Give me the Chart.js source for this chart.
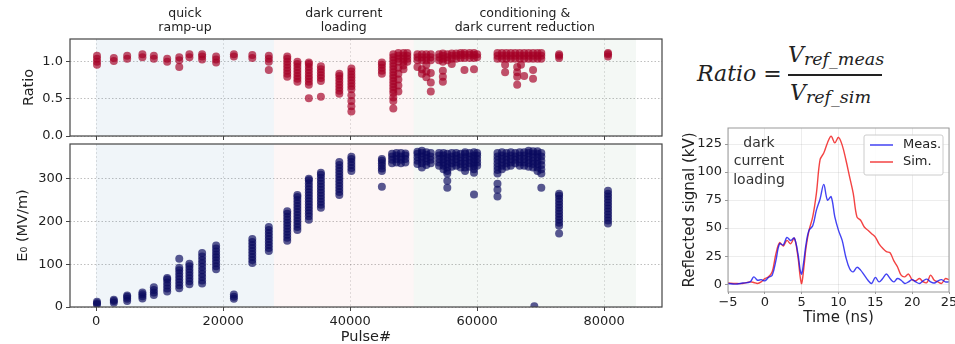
<!DOCTYPE html>
<html>
<head>
<meta charset="utf-8">
<script src="https://cdn.jsdelivr.net/npm/chart.js@4/dist/chart.umd.min.js"></script>
<style>
  body { margin: 0; background: #fff; }
  #fig { position: relative; width: 955px; height: 344px; overflow: hidden; color: #222; }
  canvas { position: absolute; }
  .eq { position: absolute; font-family: "DejaVu Serif"; font-style: italic; font-size: 22px; line-height: 22px; color: #222; white-space: nowrap; }
  .eq sub { font-size: 17.5px; vertical-align: -3px; line-height: 0; }
</style>
</head>
<body>
<div id="fig">
  <canvas id="ratioChart" width="670" height="140" style="left:0;top:0"></canvas>
  <canvas id="e0Chart" width="670" height="204" style="left:0;top:140px"></canvas>
  <canvas id="signalChart" width="285" height="224" style="left:670px;top:120px"></canvas>
  <div class="eq" style="left:697px;top:63px">Ratio =</div>
  <div class="eq" style="left:788px;top:44px">V<sub>ref_meas</sub></div>
  <div style="position:absolute;left:788px;top:74px;width:94px;height:2px;background:#222"></div>
  <div class="eq" style="left:790px;top:82px">V<sub>ref_sim</sub></div>
</div>
<script>
// --- donnees ---
const pulseTicks = [0, 20000, 40000, 60000, 80000];
const ratioTicks = [0, 0.5, 1.0];
const e0Ticks = [0, 100, 200, 300];

// phases de conditionnement (Pulse#)
const phaseNames = [['quick', 'ramp-up'], ['dark current', 'loading'], ['conditioning &', 'dark current reduction']];
const phaseStart = [0, 28000, 50000];
const phaseEnd = [28000, 50000, 85000];

// [Pulse#, valeurs du ratio]
const ratioGroups = [
  [150, [0.96, 1.0, 1.04, 1.08]],
  [2800, [1.01, 1.05]],
  [4900, [1.04, 1.08]],
  [7300, [1.06, 1.1]],
  [9100, [1.04, 1.08]],
  [11200, [1.0, 1.04]],
  [13100, [0.93, 1.02, 1.06]],
  [14700, [1.06, 1.1]],
  [16700, [1.03, 1.07, 1.1]],
  [18900, [0.99, 1.03, 1.07]],
  [21700, [1.07, 1.1]],
  [24600, [1.05, 1.09]],
  [27200, [0.89, 1.0, 1.04, 1.08]],
  [30100, [0.8, 0.84, 0.88, 0.92, 0.96, 1.0, 1.04, 1.07]],
  [31700, [0.73, 0.77, 0.81, 0.85, 0.89, 0.93, 0.97, 1.0]],
  [33500, [0.51, 0.69, 0.73, 0.77, 0.81, 0.85, 0.89, 0.93, 0.97, 0.99]],
  [35400, [0.53, 0.74, 0.78, 0.82, 0.86, 0.9, 0.94]],
  [38300, [0.57, 0.61, 0.65, 0.69, 0.73, 0.77, 0.81, 0.84]],
  [40200, [0.33, 0.4, 0.47, 0.55, 0.63, 0.67, 0.71, 0.75, 0.79, 0.83, 0.87, 0.91]],
  [45000, [0.84, 0.88, 0.92, 0.96, 0.99]],
  [46800, [0.37, 0.47, 0.52, 0.58, 0.62, 0.66, 0.7, 0.74, 0.78, 0.82, 0.86, 0.9, 0.94, 0.98, 1.02, 1.06, 1.1]],
  [47600, [0.6, 0.68, 0.76, 0.84, 0.92, 1.0, 1.04, 1.08, 1.12]],
  [48400, [0.9, 0.95, 1.0, 1.04, 1.08, 1.12]],
  [49000, [1.0, 1.04, 1.08, 1.12]],
  [50600, [0.93, 1.02, 1.06, 1.1]],
  [51300, [0.84, 0.9, 1.02, 1.06, 1.1]],
  [52000, [0.79, 0.87, 0.96, 1.02, 1.06, 1.1]],
  [52700, [0.6, 0.72, 0.85, 1.02, 1.06, 1.1]],
  [54000, [1.02, 1.06, 1.1]],
  [54600, [0.73, 0.8, 0.88, 1.0, 1.04, 1.08, 1.11]],
  [55300, [1.02, 1.06, 1.1]],
  [56000, [0.97, 1.04, 1.08, 1.11]],
  [56700, [1.04, 1.08, 1.11]],
  [57400, [1.05, 1.09, 1.12]],
  [58000, [0.89, 1.05, 1.09, 1.12]],
  [58800, [1.05, 1.09, 1.12]],
  [59500, [0.9, 1.05, 1.09, 1.12]],
  [60000, [1.06, 1.1]],
  [63200, [1.04, 1.08, 1.12]],
  [63900, [1.04, 1.08, 1.12]],
  [64400, [0.86, 0.96]],
  [64600, [1.04, 1.08, 1.12]],
  [65300, [1.04, 1.08, 1.12]],
  [66000, [1.04, 1.08, 1.12]],
  [66300, [0.69, 0.8, 0.86, 0.93]],
  [66700, [1.04, 1.08, 1.12]],
  [66900, [0.96]],
  [67400, [0.81, 1.04, 1.08, 1.12]],
  [68100, [1.04, 1.08, 1.12]],
  [68800, [0.77, 0.89, 1.04, 1.08, 1.12]],
  [69500, [1.04, 1.08, 1.12]],
  [70100, [1.04, 1.08, 1.12]],
  [72900, [1.05, 1.08, 1.1]],
  [80600, [1.07, 1.1, 1.12]]
];

// [Pulse#, valeurs de E0 (MV/m)]
const e0Groups = [
  [150, [6, 9, 12]],
  [2800, [10, 14, 17]],
  [4900, [14, 19, 24, 27]],
  [7300, [20, 25, 30, 34]],
  [9100, [28, 34, 40, 46]],
  [11200, [36, 43, 50, 57, 64, 68]],
  [13100, [44, 51, 58, 65, 72, 79, 86, 92, 113]],
  [14700, [53, 60, 67, 74, 81, 88, 95, 101]],
  [16700, [55, 62, 70, 78, 86, 94, 102, 110, 118, 126]],
  [18900, [88, 95, 102, 109, 116, 123, 130, 137, 144]],
  [21700, [19, 24, 29]],
  [24600, [103, 110, 117, 124, 131, 138, 145, 152, 159]],
  [27200, [131, 138, 145, 152, 159, 166, 173, 180, 187]],
  [30100, [155, 162, 169, 176, 183, 190, 197, 204, 211, 218, 224]],
  [31700, [180, 187, 194, 201, 208, 215, 222, 229, 236, 243, 250, 257, 262]],
  [33500, [204, 212, 219, 226, 233, 240, 247, 254, 261, 268, 275, 282, 289, 296, 300]],
  [35400, [232, 239, 246, 253, 260, 267, 274, 281, 288, 295, 302, 309, 314]],
  [38300, [262, 269, 276, 283, 290, 297, 304, 311, 318, 325, 332, 339]],
  [40200, [318, 325, 332, 339, 346, 351]],
  [45000, [281, 318, 324, 330, 336, 342, 346]],
  [46600, [336, 344, 352, 358]],
  [47300, [338, 346, 354, 360]],
  [48000, [336, 344, 352, 360]],
  [48700, [338, 346, 354, 359]],
  [50600, [334, 342, 350, 358, 363]],
  [51300, [326, 336, 344, 352, 360, 365]],
  [52000, [332, 340, 348, 356, 362]],
  [52700, [336, 344, 352, 360]],
  [54000, [330, 338, 346, 354, 360]],
  [54700, [322, 330, 338, 346, 354, 360]],
  [55300, [279, 295, 312, 318, 326, 334, 342, 350, 358]],
  [56000, [328, 336, 344, 352, 360]],
  [56700, [330, 338, 346, 354, 360]],
  [57400, [326, 334, 342, 350, 358]],
  [58100, [318, 326, 334, 342, 350, 358, 362]],
  [58800, [328, 336, 344, 352, 360]],
  [59500, [263, 314, 322, 330, 338, 346, 354, 362]],
  [60000, [330, 338, 346, 354, 360]],
  [63200, [258, 274, 288, 312, 320, 328, 336, 344, 352, 360]],
  [63900, [322, 330, 338, 346, 354, 362]],
  [64600, [328, 336, 344, 352, 360]],
  [65300, [330, 338, 346, 354, 362]],
  [66000, [336, 344, 352, 360]],
  [66700, [330, 338, 346, 354, 362]],
  [67400, [330, 338, 346, 354, 362]],
  [68100, [328, 336, 344, 352, 360, 365]],
  [68800, [326, 334, 342, 350, 358, 364]],
  [69000, [2]],
  [69500, [318, 326, 334, 342, 350, 358, 364]],
  [70100, [279, 312, 322, 332, 342, 352, 360]],
  [72900, [172, 190, 197, 204, 211, 218, 225, 232, 239, 246, 253, 260, 265]],
  [80600, [195, 202, 209, 216, 223, 230, 237, 244, 251, 258, 265, 272]]
];

// signal reflechi (kV) en fonction du temps (ns)
const signalTime = [-5, -4, -3, -2, -1.5, -1, -0.5, 0, 0.5, 1, 1.5, 2, 2.5, 3, 3.5, 4, 4.5, 4.8, 5, 5.3, 5.6, 6, 6.5, 7, 7.5, 8, 8.5, 9, 9.5, 10, 10.5, 11, 11.5, 12, 12.5, 13, 13.5, 14, 14.5, 15, 15.5, 16, 16.5, 17, 17.5, 18, 18.5, 19, 19.5, 20, 20.5, 21, 21.5, 22, 22.5, 23, 23.5, 24, 24.5, 25];
const measSignal = [0.6, 0, 1, 2, 6.5, 3.5, 4, 3, 6, 8, 21, 36, 35, 41.7, 39, 41, 27, 12.5, 9, 21, 36, 48, 52, 66, 76, 89, 75, 78, 60, 48, 39, 24, 14, 11, 15, 12.5, 8, 3.5, 0.6, 6, 2, 5, 9, 5, 2, 5, 3.5, 0.6, 2, 4, 2, 0.6, 3, 4.5, 2, 1, 3, 4, 2, 2];
const simSignal = [1, 0.6, 0.6, 2, 1.5, 0.6, 2, 5, 6.5, 11, 27, 37, 34, 39, 36, 41, 24, 6.5, 0.6, 15, 33, 48, 60, 81, 111, 117, 126, 132, 126, 131, 124, 111, 96, 81, 60, 57, 51, 48, 45, 42, 36, 32, 29, 28, 21, 15.5, 8, 6.5, 9, 4, 3, 5, 2, 1.5, 8, 3.5, 2, 0.6, 5, 4];

// --- styles ---
Chart.defaults.font.family = 'DejaVu Sans';
Chart.defaults.color = '#222';
const phaseFill = ['rgba(70,130,180,0.08)', 'rgba(220,80,80,0.05)', 'rgba(60,140,80,0.06)'];

function toPoints(groups) {
  return groups.flatMap(([pulse, values]) => values.map(v => ({ x: pulse, y: v })));
}

// fond colore par phase + cadre + titres des phases
const phasePlugin = {
  id: 'phases',
  beforeDatasetsDraw(chart, args, opts) {
    const { ctx, chartArea: a, scales: { x } } = chart;
    ctx.save();
    phaseStart.forEach((s, i) => {
      const x0 = x.getPixelForValue(s), x1 = x.getPixelForValue(phaseEnd[i]);
      ctx.fillStyle = phaseFill[i];
      ctx.fillRect(x0, a.top, x1 - x0, a.bottom - a.top);
      if (opts.labels) {
        ctx.fillStyle = '#222';
        ctx.font = '12.5px "DejaVu Sans"';
        ctx.textAlign = 'center';
        ctx.textBaseline = 'middle';
        const xc = x.getPixelForValue((s + phaseEnd[i]) / 2);
        phaseNames[i].forEach((line, k) => ctx.fillText(line, xc, 14 + k * 14));
      }
    });
    ctx.restore();
  },
  afterDatasetsDraw(chart) {
    const { ctx, chartArea: a } = chart;
    ctx.save();
    ctx.strokeStyle = '#444';
    ctx.lineWidth = 1.2;
    ctx.strokeRect(a.left, a.top, a.right - a.left, a.bottom - a.top);
    ctx.restore();
  }
};

function pulseAxis(showLabels) {
  return {
    type: 'linear', min: -4100, max: 89100,
    afterBuildTicks: s => { s.ticks = pulseTicks.map(v => ({ value: v })); },
    afterFit: s => { s.height = showLabels ? 37 : 3; s.paddingLeft = 0; s.paddingRight = 0; },
    grid: { color: 'rgba(0,0,0,0.12)', tickLength: 4, tickColor: '#444' },
    border: { display: false, dash: [2, 2] },
    ticks: { display: showLabels, font: { size: 13 }, padding: 3, maxRotation: 0, callback: v => String(v) },
    title: { display: showLabels, text: 'Pulse#', font: { size: 14.5 }, padding: { top: 0, bottom: -2 } }
  };
}

function valueAxis(min, max, tickValues, title, titlePad, fmt) {
  return {
    min: min, max: max,
    afterBuildTicks: s => { s.ticks = tickValues.map(v => ({ value: v })); },
    afterFit: s => { s.width = 70; s.paddingTop = 0; s.paddingBottom = 0; },
    grid: { color: 'rgba(0,0,0,0.25)', tickLength: 4, tickColor: '#444' },
    border: { display: false, dash: [1.5, 2] },
    ticks: { font: { size: 13 }, padding: 3, callback: fmt },
    title: { display: true, text: title, font: { size: 14.5 }, padding: { top: titlePad, bottom: 0 } }
  };
}

// graphique du haut : ratio
new Chart(document.getElementById('ratioChart'), {
  type: 'scatter',
  data: { datasets: [{ label: 'Ratio', data: toPoints(ratioGroups), backgroundColor: 'rgba(165,0,38,0.68)', borderWidth: 0, pointRadius: 4 }] },
  options: {
    responsive: false, animation: false,
    layout: { padding: { top: 39, right: 8, left: 0, bottom: 0 } },
    plugins: { legend: { display: false }, tooltip: { enabled: false }, phases: { labels: true } },
    scales: { x: pulseAxis(false), y: valueAxis(0, 1.307, ratioTicks, 'Ratio', 21, v => v.toFixed(1)) }
  },
  plugins: [phasePlugin]
});

// graphique du bas : E0
new Chart(document.getElementById('e0Chart'), {
  type: 'scatter',
  data: { datasets: [{ label: 'E0', data: toPoints(e0Groups), backgroundColor: 'rgba(10,10,95,0.68)', borderWidth: 0, pointRadius: 4 }] },
  options: {
    responsive: false, animation: false,
    layout: { padding: { top: 3, right: 8, left: 0, bottom: 0 } },
    plugins: { legend: { display: false }, tooltip: { enabled: false }, phases: { labels: false } },
    scales: { x: pulseAxis(true), y: valueAxis(0, 381, e0Ticks, 'E\u2080 (MV/m)', 15, v => String(v)) }
  },
  plugins: [phasePlugin]
});

// legende, texte et cadre du graphique du signal
const signalPlugin = {
  id: 'signalDecor',
  afterDatasetsDraw(chart) {
    const { ctx, chartArea: a } = chart;
    ctx.save();
    ctx.strokeStyle = '#999';
    ctx.lineWidth = 1;
    ctx.strokeRect(a.left, a.top, a.right - a.left, a.bottom - a.top);
    // texte
    ctx.fillStyle = '#333';
    ctx.font = '14px "DejaVu Sans"';
    ctx.textAlign = 'center';
    ctx.textBaseline = 'middle';
    ['dark', 'current', 'loading'].forEach((t, k) => ctx.fillText(t, a.left + 31, a.top + 15 + k * 18.5));
    // legende
    const bx = a.right - 85, by = a.top + 7;
    ctx.fillStyle = 'rgba(255,255,255,0.85)';
    ctx.strokeStyle = '#ccc';
    ctx.beginPath();
    ctx.roundRect(bx, by, 79, 40, 2);
    ctx.fill();
    ctx.stroke();
    ctx.textAlign = 'left';
    ctx.font = '13px "DejaVu Sans"';
    chart.data.datasets.forEach((d, i) => {
      const y = by + 10 + i * 17;
      ctx.strokeStyle = d.borderColor;
      ctx.lineWidth = 1.5;
      ctx.beginPath();
      ctx.moveTo(bx + 6, y);
      ctx.lineTo(bx + 29, y);
      ctx.stroke();
      ctx.fillStyle = '#222';
      ctx.fillText(d.label, bx + 39, y);
    });
    ctx.restore();
  }
};

new Chart(document.getElementById('signalChart'), {
  type: 'line',
  data: {
    datasets: [
      { label: 'Meas.', data: signalTime.map((t, i) => ({ x: t, y: measSignal[i] })), borderColor: 'rgba(20,20,240,0.8)', borderWidth: 1.4, pointRadius: 0, tension: 0.35, fill: false },
      { label: 'Sim.', data: signalTime.map((t, i) => ({ x: t, y: simSignal[i] })), borderColor: 'rgba(240,20,20,0.8)', borderWidth: 1.4, pointRadius: 0, tension: 0.35, fill: false }
    ]
  },
  options: {
    responsive: false, animation: false,
    layout: { padding: { top: 8, right: 6, left: 0, bottom: 0 } },
    plugins: { legend: { display: false }, tooltip: { enabled: false } },
    scales: {
      x: {
        type: 'linear', min: -5, max: 25,
        afterBuildTicks: s => { s.ticks = [-5, 0, 5, 10, 15, 20, 25].map(v => ({ value: v })); },
        afterFit: s => { s.height = 52; s.paddingLeft = 0; s.paddingRight = 0; },
        grid: { color: 'rgba(0,0,0,0.07)', tickLength: 2, tickColor: '#999' },
        border: { display: false },
        ticks: { font: { size: 13 }, padding: 1, maxRotation: 0, callback: v => v < 0 ? '\u2212' + Math.abs(v) : String(v) },
        title: { display: true, text: 'Time (ns)', font: { size: 15 }, padding: { top: 0, bottom: 17 } }
      },
      y: {
        min: -7, max: 139.3,
        afterBuildTicks: s => { s.ticks = [0, 25, 50, 75, 100, 125].map(v => ({ value: v })); },
        afterFit: s => { s.width = 58; s.paddingTop = 0; s.paddingBottom = 0; },
        grid: { color: 'rgba(0,0,0,0.07)', tickLength: 3, tickColor: '#999' },
        border: { display: false },
        ticks: { font: { size: 13 }, padding: 3 },
        title: { display: true, text: 'Reflected signal (kV)', font: { size: 15 }, padding: { top: 11, bottom: 0 } }
      }
    }
  },
  plugins: [signalPlugin]
});
</script>
</body>
</html>
